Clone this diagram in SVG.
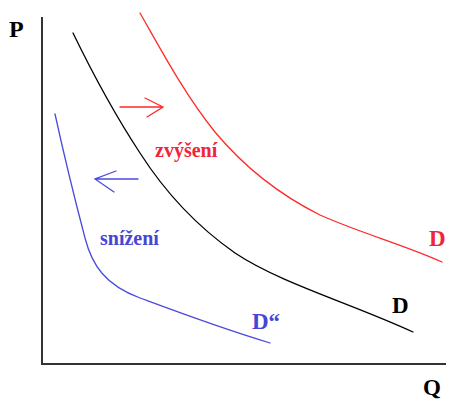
<svg xmlns="http://www.w3.org/2000/svg" width="449" height="399" viewBox="0 0 449 399">
<style>
text{font-family:"Liberation Serif","Times New Roman",serif;font-weight:bold}
.ax{stroke:#333;stroke-width:2;fill:none}
.c{fill:none;stroke-width:1.3;stroke-linecap:round}
.blk{stroke:#000}
.red{stroke:#ff2a2a}
.blu{stroke:#4a4ade}
.tr{fill:#f0243a}
.tb{fill:#4646d6}
.tk{fill:#000}
</style>
<rect width="449" height="399" fill="#fff"/>
<g id="axes">
<path class="ax" d="M42,17 V364 H446"/>
<text class="tk" x="9" y="37" font-size="24">P</text>
<text class="tk" x="423" y="395" font-size="23">Q</text>
</g>
<g id="curve-D">
<path class="c blk" d="M73,33 C90,68 115,115 140,153 C165,192 195,225 235,253 C280,283 350,303 413,332"/>
<text class="tk" x="392" y="313" font-size="23">D</text>
</g>
<g id="curve-D-up">
<path class="c red" d="M140,13 C160,48 185,95 215,132 C245,168 280,195 320,215 C360,233 405,245 442,262"/>
<text class="tr" x="429" y="246" font-size="23">D</text>
</g>
<g id="curve-D-down">
<path class="c blu" d="M55,114 C64,155 75,200 85,238 C92,265 105,285 140,298 C175,311 220,328 270,343"/>
<text class="tb" x="252" y="329" font-size="23">D“</text>
</g>
<g id="connectors">
<path class="c red" d="M120,107 H163 M145,98 L163,107 L147,117"/>
<path class="c blu" d="M138,179 H95 M116,171 L95,179 L114,192"/>
</g>
<g id="labels">
<text class="tr" x="155" y="157" font-size="20">zvýšení</text>
<text class="tb" x="100" y="245" font-size="20">snížení</text>
</g>
</svg>
